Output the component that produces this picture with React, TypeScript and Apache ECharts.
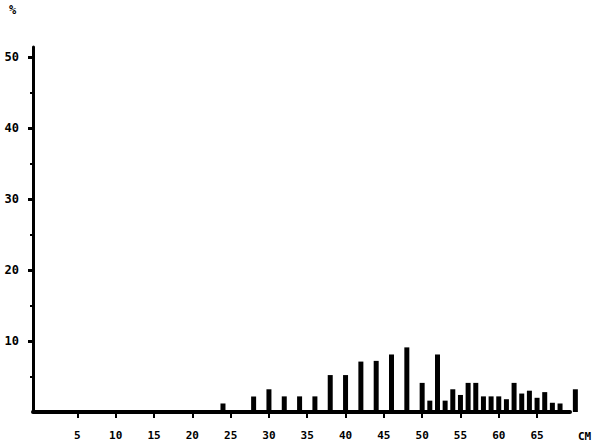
import React, { useEffect, useRef } from "react";
import * as echarts from "echarts";

const lengthsCm = [24, 28, 30, 32, 34, 36, 38, 40, 42, 44, 46, 48, 50, 51, 52, 53, 54, 55, 56, 57, 58, 59, 60, 61, 62, 63, 64, 65, 66, 67, 68, 70];
const percentValues = [1.2, 2.2, 3.2, 2.2, 2.2, 2.2, 5.2, 5.2, 7.1, 7.2, 8.1, 9.1, 4.1, 1.6, 8.1, 1.6, 3.2, 2.4, 4.1, 4.1, 2.2, 2.2, 2.2, 1.8, 4.1, 2.6, 3.0, 2.0, 2.8, 1.3, 1.2, 3.2];
const xTickLabels = [5, 10, 15, 20, 25, 30, 35, 40, 45, 50, 55, 60, 65];
const yTickLabels = [10, 20, 30, 40, 50];
const yMinorTicks = [5, 15, 25, 35, 45];

const FONT = "DejaVu Sans Mono";

export default function App() {
  const ref = useRef<HTMLDivElement>(null);
  useEffect(() => {
    if (!ref.current) return;
    const chart = echarts.init(ref.current, null, { renderer: "svg" });
    const data = lengthsCm.map((c, i) => [c, percentValues[i]]);
    chart.setOption({
      animation: false,
      backgroundColor: "#ffffff",
      grid: { left: 33, right: 29, top: 47, bottom: 36, containLabel: false },
      xAxis: {
        type: "value",
        min: -0.8,
        max: 69.3,
        axisLine: { show: true, onZero: false, lineStyle: { color: "#000", width: 4 } },
        axisTick: { show: true, customValues: xTickLabels, length: 6, lineStyle: { color: "#000", width: 2 } },
        axisLabel: {
          customValues: xTickLabels,
          margin: 18,
          color: "#000",
          fontFamily: FONT,
          fontWeight: "bold",
          fontSize: 11,
        },
        splitLine: { show: false },
      },
      yAxis: [
        {
          type: "value",
          min: 0,
          max: 51.4,
          axisLine: { show: true, onZero: false, lineStyle: { color: "#000", width: 3 } },
          axisTick: { show: true, customValues: yTickLabels, length: 5, lineStyle: { color: "#000", width: 3 } },
          axisLabel: {
            customValues: yTickLabels,
            margin: 14,
            color: "#000",
            fontFamily: FONT,
            fontWeight: "bold",
            fontSize: 12,
          },
          splitLine: { show: false },
        },
        {
          type: "value",
          min: 0,
          max: 51.4,
          position: "left",
          axisLine: { show: false, onZero: false },
          axisTick: { show: true, customValues: yMinorTicks, length: 3, lineStyle: { color: "#000", width: 2 } },
          axisLabel: { show: false },
          splitLine: { show: false },
        },
      ],
      series: [
        {
          type: "bar",
          data,
          barWidth: 5,
          clip: false,
          itemStyle: { color: "#000" },
        },
      ],
      graphic: [
        {
          type: "text",
          left: 9,
          top: 4,
          style: { text: "%", fill: "#000", font: `bold 12px "${FONT}"` },
        },
        {
          type: "text",
          left: 578,
          top: 431,
          style: { text: "CM", fill: "#000", font: `bold 11px "${FONT}"` },
        },
      ],
    });
    return () => chart.dispose();
  }, []);
  return (
    <div
      ref={ref}
      style={{ position: "fixed", left: 0, top: 0, width: 599, height: 448 }}
    />
  );
}
